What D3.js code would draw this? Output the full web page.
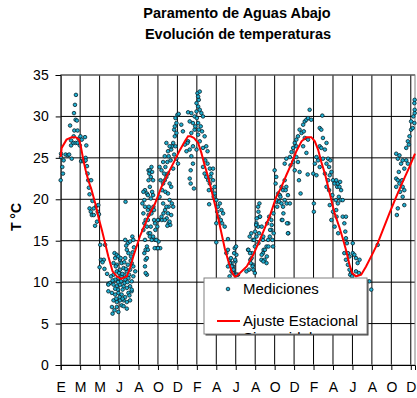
<!DOCTYPE html>
<meta charset="utf-8">
<script src="https://d3js.org/d3.v7.min.js"></script>
<style>
    html, body { margin: 0; padding: 0; background: white; }
    text { font-family: "Liberation Sans", Arial, sans-serif; fill: black; }
    .grid line { stroke: black; stroke-width: 1; shape-rendering: auto; }
</style>
<body></body>
<script>

    // DATA  (day since start, temperature in °C)
    const monthLabels = ["E","M","M","J","A","O","D","F","A","J","A","O","D","F","A","J","A","O","D"];
    const yTicks = [0, 5, 10, 15, 20, 25, 30, 35];

    const mediciones = [
        // enero - mayo, año 1
        [0,22.3],[1,25.1],[1,25.5],[5,23.9],[7,23.1],[9,24.7],[15,25.4],[22,25.3],[26,25.4],[29,28.9],
        [34,24.9],[32,26.5],[39,26.8],[42,28.3],[41,30.4],[44,31.4],[47,32.6],[46,29.6],[50,29.5],[52,28.3],
        [55,27.3],[40,27.6],[32,27.1],[46,26.8],[52,26.8],[59,26.5],[63,24.6],[69,24.6],[73,24.6],[77,25.0],
        [79,26.5],[75,27.5],[61,27.6],[65,27.2],[77,24.7],[81,24.0],[83,23.1],[85,22.3],[87,21.4],[94,22.3],
        [89,20.6],[98,19.8],[102,18.9],[89,18.9],[93,18.5],[96,18.1],[110,19.2],[116,19.3],[102,18.1],[114,18.5],
        [106,16.8],[112,17.3],[118,18.2],[122,14.5],[137,14.5],[124,12.7],[133,12.7],[129,12.4],[120,11.8],[135,11.6],
        [143,11.0],[147,9.8],[200,19.7],
        // junio - julio, año 1
        [166,13.5],[173,13.3],[168,12.9],[178,13.1],[183,12.7],[163,12.3],[173,12.1],[188,12.3],[199,12.9],[204,13.9],
        [199,15.1],[207,14.7],[214,14.9],[221,15.5],[224,15.1],[209,13.5],[217,13.1],[219,12.3],[224,11.9],[214,11.5],
        [204,11.3],[194,11.7],[183,11.5],[173,11.3],[163,10.9],[155,10.7],[168,10.3],[178,10.5],[188,10.7],[199,10.3],
        [209,10.5],[219,10.1],[214,9.5],[204,9.3],[194,9.5],[183,9.7],[173,9.5],[163,9.7],[152,9.9],[147,8.9],
        [158,8.7],[168,8.5],[178,8.7],[188,8.5],[199,8.2],[209,8.7],[219,8.9],[214,7.8],[204,7.6],[194,7.8],
        [183,7.8],[173,7.6],[163,7.8],[158,7.0],[173,7.0],[188,7.2],[204,6.8],[178,6.4],[160,6.2],[147,9.7],
        [224,10.7],[230,11.3],[219,9.1],[194,7.1],[166,6.6],[170,11.9],[180,11.1],[186,10.1],[191,9.1],[196,10.9],
        [201,11.6],[207,12.1],[211,10.9],[216,12.6],[222,13.6],[226,14.2],[176,9.1],[182,8.2],[191,8.0],[197,9.9],
        [206,10.0],[212,8.4],[185,12.9],[160,10.2],[171,8.0],[196,12.4],[202,14.4],[190,11.0],[177,10.0],[168,9.2],
        // agosto - diciembre, año 1
        [260,21.1],[255,20.9],[266,20.7],[258,19.9],[252,19.5],[260,19.1],[269,18.7],[255,18.3],[262,17.5],[258,17.1],
        [266,16.7],[255,16.3],[271,15.9],[260,15.1],[266,14.3],[258,13.5],[262,12.7],[260,11.9],[266,10.9],[271,23.5],
        [273,23.1],[262,13.9],[266,12.9],[262,11.1],[276,15.9],[281,15.1],[291,15.1],[302,14.9],[297,14.1],[307,14.1],
        [312,17.5],[317,18.3],[322,18.7],[327,17.7],[333,17.1],[338,16.9],[343,19.5],[333,19.1],[302,17.5],[291,17.1],
        [281,18.7],[286,19.1],[271,18.1],
        [280,23.9],[275,23.5],[282,23.3],[278,22.7],[271,22.3],[285,22.3],[275,21.5],[282,20.9],[269,20.5],[278,20.1],
        [285,20.5],[272,19.1],[280,18.3],[288,18.7],[269,17.5],[278,16.7],[288,17.5],[275,15.5],[285,15.5],[292,16.3],
        [269,13.9],[290,14.1],[300,14.1],[295,15.1],[298,16.7],[300,17.5],
        [305,23.9],[311,23.5],[316,24.5],[319,23.1],[308,22.3],[316,21.9],[321,22.3],[326,22.7],[331,23.1],[336,21.9],
        [313,21.1],[323,20.9],[331,20.7],[336,19.9],[341,21.5],[305,20.3],[316,19.5],[326,19.1],[331,18.3],[341,18.1],
        [336,17.3],[311,17.9],[321,17.5],[329,16.8],[347,19.1],
        [326,26.8],[331,25.8],[333,25.2],[329,24.5],[341,26.0],[347,26.8],[352,27.6],[350,28.4],[357,29.2],[360,30.2],
        [364,30.3],[354,29.8],[343,26.4],[336,26.4],[350,25.4],[357,24.9],[362,24.3],[321,25.2],[323,23.9],[339,24.7],
        [347,23.7],[354,26.4],[357,28.0],[352,28.8],
        // enero - junio, año 2
        [393,30.5],[403,30.4],[398,29.4],[408,29.2],[413,30.0],[419,30.6],[424,31.2],[426,32.0],[422,32.8],[429,33.0],
        [419,31.6],[429,30.8],[434,30.4],[439,30.0],[403,28.0],[413,28.4],[424,27.8],[429,27.0],[408,26.4],[398,26.0],
        [403,25.2],[393,27.0],[419,26.0],[408,24.3],[401,23.5],[398,22.5],[411,21.3],[401,21.9],[424,29.2],[432,28.8],
        [436,28.2],[444,27.6],[449,26.4],[453,25.8],[439,26.2],[424,32.4],[420,29.8],[415,28.8],[426,28.4],[391,26.8],
        [388,25.8],[372,29.0],[377,28.2],[383,26.6],
        [439,23.9],[444,23.1],[449,22.7],[455,22.3],[460,21.9],[465,23.1],[470,22.3],[475,21.5],[446,24.7],[460,23.7],
        [467,21.1],[475,20.7],[480,19.9],[485,19.1],[491,19.5],[496,18.7],[487,17.9],[494,17.5],[480,17.1],[501,18.3],
        [458,19.4],[506,16.7],[516,15.2],[480,14.8],[516,13.9],[453,24.3],[462,22.7],[472,20.3],[483,18.5],[498,17.1],
        [470,23.7],[457,21.1],
        [511,13.5],[521,12.7],[527,12.3],[532,11.9],[537,14.1],[542,13.3],[539,12.5],[516,11.9],[527,11.3],[535,11.1],
        [547,10.9],[521,10.7],[522,12.3],[528,11.9],[533,11.5],[538,12.7],[541,14.3],[535,13.5],[531,11.1],[543,10.9],
        [525,12.9],
        // julio - diciembre, año 2
        [578,13.9],[583,15.5],[588,15.9],[593,15.1],[599,14.3],[591,13.5],[585,12.7],[593,12.1],[599,11.1],[581,11.5],
        [573,11.3],[604,15.5],[609,16.7],[614,17.9],[609,19.1],[604,17.1],[612,15.9],[619,12.7],[624,13.5],[629,12.7],
        [635,14.3],[640,15.1],[645,15.5],[650,16.3],[655,14.3],[643,17.9],[637,17.1],[650,17.5],[624,15.1],[626,13.9],
        [653,15.1],[657,15.9],[635,12.3],[579,13.9],[584,13.5],[589,12.9],[592,11.9],[594,11.5],[586,12.3],[597,15.1],
        [600,16.1],[603,16.9],[605,17.7],[610,18.5],[613,19.5],[615,17.9],[620,16.7],[625,15.5],[630,13.9],[636,13.1],
        [641,14.3],[646,16.3],[651,16.9],[656,18.3],[620,13.3],[625,12.5],[610,14.7],[666,19.7],[687,18.3],[702,15.9],
        [702,17.1],[682,17.5],[697,19.5],
        [660,23.5],[665,22.7],[663,21.9],[671,20.7],[676,20.5],[681,21.5],[686,21.1],[691,22.3],[696,21.5],[665,19.9],
        [674,19.7],[681,19.5],[686,19.1],[691,19.9],[701,20.5],[684,17.5],[698,17.1],[701,15.9],[694,21.1],[707,19.5],
        [678,20.3],[668,19.1],
        [691,24.3],[696,24.9],[707,25.1],[712,25.7],[717,26.2],[722,26.8],[727,27.2],[732,27.6],[737,28.4],[748,29.0],
        [753,29.4],[758,29.6],[763,29.8],[768,30.8],[773,29.6],[743,28.0],[727,26.4],[717,24.5],[732,24.5],[737,23.3],
        [735,22.3],[740,20.7],[722,23.5],[709,24.1],[748,26.4],[758,25.6],[753,27.4],[763,27.2],[750,28.2],[762,23.0],
        [727,25.1],
        // enero - junio, año 3
        [807,30.1],[799,28.6],[804,28.4],[809,27.4],[799,26.4],[804,26.2],[815,26.0],[789,25.1],[794,24.7],[784,24.3],
        [779,23.1],[789,22.9],[799,23.9],[825,24.9],[832,24.7],[820,24.3],[815,23.1],[825,22.3],[830,22.9],[835,23.3],
        [840,22.3],[845,21.9],[820,21.5],[828,21.1],[838,20.5],[849,19.9],[840,18.5],[851,17.9],[830,19.3],[781,19.5],
        [781,18.5],[835,17.5],[845,16.7],[856,15.9],[809,24.9],[820,26.8],[828,23.9],[853,21.5],
        [855,21.9],[860,21.5],[865,21.1],[858,20.3],[864,19.9],[870,19.9],[855,19.5],[850,18.7],[870,17.9],[880,17.9],
        [875,17.1],[878,16.1],[880,15.3],[883,14.7],[875,13.5],[886,13.5],[891,13.1],[880,12.7],[886,12.1],[891,11.5],
        [896,11.1],[901,13.5],[906,13.3],[911,12.9],[922,12.7],[916,12.3],[911,11.3],[920,11.1],[901,14.7],[893,10.9],
        [899,10.7],[952,10.1],[958,9.1],[978,14.5],[850,22.3],[862,22.1],
        // septiembre - diciembre, año 3
        [1035,25.5],[1040,24.9],[1045,25.3],[1050,24.3],[1055,24.7],[1060,23.7],[1066,24.7],[1071,24.3],[1035,22.5],[1040,22.3],
        [1045,21.9],[1035,21.5],[1047,20.9],[1055,21.5],[1060,21.1],[1055,20.3],[1060,19.3],[1040,18.9],[1037,18.1],[1043,23.3],
        [1053,22.3],[1066,26.2],[1071,27.0],[1076,27.6],[1081,28.4],[1086,28.6],[1091,29.2],[1088,30.0],[1092,30.4],[1092,32.0],
        [1091,31.6],[1092,30.8],[1081,29.4],[1074,26.6]
    ];

    const ajuste = [
        [0,25.1],[3,26.2],[18,27.2],[34,27.5],[46,27.5],[57,27.2],[63,26.2],[70,24.7],[77,23.5],[85,22.3],
        [94,21.3],[101,20.3],[108,19.3],[116,17.9],[127,16.3],[137,14.7],[147,13.1],[160,11.3],[173,10.7],[186,10.4],
        [204,10.7],[214,11.7],[224,13.1],[245,15.6],[258,16.8],[270,17.9],[290,19.4],[311,21.5],[331,23.1],[352,24.7],
        [367,25.9],[383,27.0],[393,27.6],[401,27.6],[411,27.4],[424,26.8],[434,25.6],[444,24.1],[455,22.7],[465,21.1],
        [475,19.5],[485,17.9],[496,15.9],[506,14.1],[516,12.7],[527,11.3],[538,10.6],[553,11.1],[574,11.9],[594,13.3],
        [610,14.7],[625,16.1],[646,18.1],[665,20.3],[681,21.5],[696,22.9],[712,24.3],[727,25.8],[743,27.0],[758,27.5],
        [773,27.5],[784,27.0],[794,26.0],[804,24.5],[815,23.1],[825,21.5],[835,19.9],[845,18.3],[860,16.6],[870,15.3],
        [880,13.9],[891,12.1],[899,11.1],[911,10.7],[927,10.9],[942,11.9],[963,13.5],[978,14.7],[994,16.3],[1014,18.3],
        [1035,20.3],[1055,22.1],[1076,23.9],[1093,25.5]
    ];

    // LAYOUT
    const width = 417, height = 398;
    const plotLeft = 60.7, plotRight = 415, plotTop = 75, plotBottom = 365;

    const svg = d3.select("body").append("svg")
        .attr("width", width)
        .attr("height", height);

    const x = d3.scaleLinear().domain([0, 1093]).range([plotLeft, plotRight]);
    const y = d3.scaleLinear().domain([0, 35]).range([plotBottom, plotTop]);
    const xTicks = d3.range(0, 1081, 60);

    // Title
    svg.append("text")
        .attr("x", 237).attr("y", 18)
        .attr("text-anchor", "middle")
        .style("font-size", "14.5px").style("font-weight", "bold")
        .text("Paramento de Aguas Abajo");
    svg.append("text")
        .attr("x", 238).attr("y", 39)
        .attr("text-anchor", "middle")
        .style("font-size", "14.5px").style("font-weight", "bold")
        .text("Evolución de temperaturas");

    // Gridlines
    svg.append("g").attr("class", "grid")
        .selectAll("line").data(yTicks.slice(1)).join("line")
        .attr("x1", plotLeft).attr("x2", plotRight)
        .attr("y1", d => y(d)).attr("y2", d => y(d));
    svg.append("g").attr("class", "grid")
        .selectAll("line").data(xTicks.slice(1)).join("line")
        .attr("x1", d => x(d)).attr("x2", d => x(d))
        .attr("y1", plotTop).attr("y2", plotBottom);

    // Plot border
    svg.append("rect")
        .attr("x", plotLeft).attr("y", plotTop)
        .attr("width", plotRight - plotLeft).attr("height", plotBottom - plotTop)
        .attr("fill", "none").attr("stroke", "#808080");

    // Axes
    const yAxis = d3.axisLeft(y).tickValues(yTicks).tickSize(5).tickPadding(7);
    const gy = svg.append("g").attr("transform", `translate(${plotLeft},0)`).call(yAxis);
    gy.selectAll("text").style("font-size", "14px").style("font-family", '"Liberation Sans", Arial, sans-serif');

    const xAxis = d3.axisBottom(x).tickValues(xTicks).tickSize(5)
        .tickPadding(12).tickFormat((d, i) => monthLabels[i]);
    const gx = svg.append("g").attr("transform", `translate(0,${plotBottom})`).call(xAxis);
    gx.selectAll("text").style("font-size", "14px").style("font-family", '"Liberation Sans", Arial, sans-serif');

    [gx, gy].forEach(g => {
        g.select(".domain").attr("stroke", "black");
        g.selectAll(".tick line").attr("stroke", "black");
    });

    // Y title
    svg.append("text")
        .attr("transform", "translate(21,217) rotate(-90)")
        .attr("text-anchor", "middle")
        .style("font-size", "14px").style("font-weight", "bold")
        .text("T °C");

    // Measurements
    svg.append("g").selectAll("circle").data(mediciones).join("circle")
        .attr("cx", d => x(d[0]))
        .attr("cy", d => y(d[1]))
        .attr("r", 1.8)
        .attr("fill", "#1fb0d2")
        .attr("stroke", "#062029")
        .attr("stroke-width", 0.8);

    // Seasonal fit
    svg.append("path")
        .datum(ajuste)
        .attr("fill", "none")
        .attr("stroke", "#ff0000")
        .attr("stroke-width", 2)
        .attr("d", d3.line().x(d => x(d[0])).y(d => y(d[1])));

    // Legend
    const lg = svg.append("g");
    const lx = 204, ly = 278, lw = 163, lh = 56;
    svg.append("clipPath").attr("id", "lclip")
        .append("rect").attr("x", lx).attr("y", ly).attr("width", lw).attr("height", lh);
    lg.append("rect").attr("x", lx + 1.5).attr("y", ly + 1.5).attr("width", lw).attr("height", lh)
        .attr("fill", "#404040");
    lg.append("rect").attr("x", lx).attr("y", ly).attr("width", lw).attr("height", lh)
        .attr("fill", "white").attr("stroke", "#808080");
    lg.append("circle").attr("cx", 228).attr("cy", 289).attr("r", 1.8)
        .attr("fill", "#1fb0d2").attr("stroke", "#062029").attr("stroke-width", 0.8);
    lg.append("text").attr("x", 243).attr("y", 293.5).style("font-size", "15px").text("Mediciones");
    lg.append("line").attr("x1", 217).attr("x2", 240).attr("y1", 321).attr("y2", 321)
        .attr("stroke", "#ff0000").attr("stroke-width", 2);
    lg.append("text").attr("x", 243).attr("y", 325.5).style("font-size", "15px").text("Ajuste Estacional");
    lg.append("text").attr("x", 243).attr("y", 343).style("font-size", "15px")
        .attr("clip-path", "url(#lclip)").text("Sinusoidal");

</script>
